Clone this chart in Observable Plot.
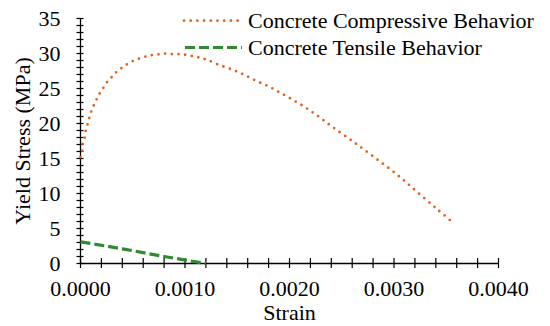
<!DOCTYPE html>
<html>
<head>
<meta charset="utf-8">
<script src="https://cdn.jsdelivr.net/npm/d3@7"></script>
<script src="https://cdn.jsdelivr.net/npm/@observablehq/plot@0.6"></script>
<style>
  html, body { margin: 0; padding: 0; background: #fff; }
  #wrap { position: relative; width: 550px; height: 326px; font-family: "Liberation Serif", "Times New Roman", serif; }
  #legend { position: absolute; left: 0; top: 0; pointer-events: none; }
</style>
</head>
<body>
<div id="wrap"></div>
<script>
// Compressive behavior (strain, MPa)
const compStrain = [0, 0.000015, 0.00002, 0.00004, 0.00005, 0.00007, 0.000086, 0.000105, 0.00013, 0.000156, 0.000188, 0.000223, 0.000258, 0.000303, 0.000347, 0.0004, 0.00045, 0.00051, 0.000567, 0.00063, 0.00069, 0.00076, 0.00082, 0.00089, 0.00095, 0.00101, 0.00108, 0.00114, 0.00121, 0.00132, 0.00145, 0.00156, 0.00168, 0.0018, 0.00191, 0.00203, 0.00214, 0.00224, 0.00234, 0.00245, 0.00261, 0.00281, 0.00302, 0.003215, 0.00341, 0.00356];
const compStress = [15.2, 16.1, 17.1, 18.0, 19.0, 20.0, 20.9, 21.8, 22.7, 23.5, 24.4, 25.2, 26.0, 26.7, 27.4, 28.0, 28.5, 29.0, 29.3, 29.6, 29.8, 29.9, 30.0, 29.9, 29.9, 29.8, 29.6, 29.4, 29.1, 28.4, 27.7, 27.0, 26.1, 25.3, 24.4, 23.4, 22.4, 21.4, 20.3, 19.1, 17.4, 15.2, 12.8, 10.3, 7.8, 5.9];
// Tensile behavior
const tensStrain = [0, 0.0004, 0.0008, 0.0012];
const tensStress = [3.1, 2.1, 1.0, 0];

const seriesNames = ["Concrete Compressive Behavior", "Concrete Tensile Behavior"];
const seriesColors = ["#DD6624", "#2F8A30"];

const xMajorTicks = [0, 0.001, 0.002, 0.003, 0.004];
const xMinorTicks = d3.range(0, 21).map(i => i * 0.0002);
const yMajorTicks = [0, 5, 10, 15, 20, 25, 30, 35];
const yMinorTicks = d3.range(0, 36);

const comp = compStrain.map((s, i) => ({strain: s, stress: compStress[i]}));
const tens = tensStrain.map((s, i) => ({strain: s, stress: tensStress[i]}));

const plot = Plot.plot({
  width: 550,
  height: 326,
  marginLeft: 80,
  marginRight: 52,
  marginTop: 18,
  marginBottom: 63,
  style: {fontFamily: "Liberation Serif, Times New Roman, serif", fontSize: "22px", color: "#000", background: "#fff"},
  x: {domain: [0, 0.004]},
  y: {domain: [0, 35]},
  marks: [
    Plot.ruleX([0], {stroke: "#000", strokeWidth: 1.3}),
    Plot.ruleY([0], {stroke: "#000", strokeWidth: 1.3}),
    Plot.axisY({ticks: yMinorTicks, tickSize: 7, dx: 3.5, text: null, label: null, stroke: "#000", strokeWidth: 1.2}),
    Plot.axisY({ticks: yMajorTicks, tickSize: 0, tickPadding: 20, label: null, fontSize: 22, tickFormat: d => String(d)}),
    Plot.axisX({ticks: xMinorTicks, tickSize: 10, dy: -5, text: null, label: null, stroke: "#000", strokeWidth: 1.2}),
    Plot.axisX({ticks: xMajorTicks, tickSize: 0, tickPadding: 17, label: null, fontSize: 22, tickFormat: d3.format(".4f")}),
    Plot.text(["Yield Stress (MPa)"], {frameAnchor: "left", textAnchor: "middle", lineAnchor: "middle", rotate: -90, dx: -58, text: d => d, fontSize: 22}),
    Plot.text(["Strain"], {frameAnchor: "bottom", lineAnchor: "middle", dy: 49, text: d => d, fontSize: 22}),
    Plot.line(tens, {x: "strain", y: "stress", stroke: seriesColors[1], strokeWidth: 3.2, strokeDasharray: "10 4", strokeLinecap: "butt"}),
    Plot.line(comp, {x: "strain", y: "stress", curve: "catmull-rom", stroke: seriesColors[0], strokeWidth: 2.8, strokeDasharray: "0 6.7", strokeLinecap: "round"})
  ]
});

const wrap = document.getElementById("wrap");
wrap.appendChild(plot);

// Legend overlay
const ns = "http://www.w3.org/2000/svg";
const leg = document.createElementNS(ns, "svg");
leg.setAttribute("id", "legend");
leg.setAttribute("width", 550);
leg.setAttribute("height", 70);
const legendRows = [
  {y: 20.7, dash: "0 6.7", cap: "round", w: 2.8},
  {y: 47.5, dash: "10 4", cap: "butt", w: 3.2}
];
legendRows.forEach((r, i) => {
  const ln = document.createElementNS(ns, "line");
  ln.setAttribute("x1", i === 0 ? 184 : 185);
  ln.setAttribute("x2", 242);
  ln.setAttribute("y1", r.y);
  ln.setAttribute("y2", r.y);
  ln.setAttribute("stroke", seriesColors[i]);
  ln.setAttribute("stroke-width", r.w);
  ln.setAttribute("stroke-dasharray", r.dash);
  ln.setAttribute("stroke-linecap", r.cap);
  leg.appendChild(ln);
  const t = document.createElementNS(ns, "text");
  t.setAttribute("x", 248);
  t.setAttribute("y", r.y + 7.5);
  t.setAttribute("font-family", "Liberation Serif, Times New Roman, serif");
  t.setAttribute("font-size", "22px");
  t.setAttribute("fill", "#000");
  t.textContent = seriesNames[i];
  leg.appendChild(t);
});
wrap.appendChild(leg);
</script>
</body>
</html>
